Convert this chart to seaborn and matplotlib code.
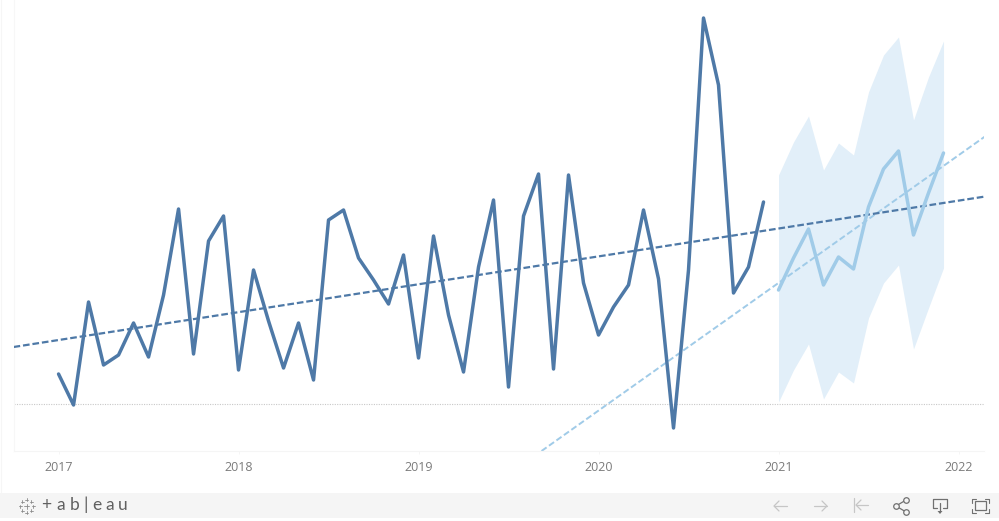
import numpy as np
import pandas as pd
import seaborn as sns
import matplotlib.pyplot as plt

# values are read off the picture, no y axis is shown so the unit is arbitrary (0 = dotted line)
actual = [30, -1, 102, 39, 49, 81, 47, 109, 195, 50, 163, 188,
          34, 134, 83, 36, 81, 24, 184, 194, 146, 124, 100, 149,
          46, 168, 89, 32, 137, 204, 17, 188, 230, 35, 229, 121,
          69, 97, 119, 194, 125, -24, 134, 386, 319, 111, 137, 202]
forecast = [114, 146, 175, 119, 147, 135, 197, 235, 253, 169, 211, 251]
upper = [229, 262, 288, 234, 261, 249, 312, 349, 367, 284, 327, 363]
lower = [2, 34, 60, 5, 32, 21, 86, 121, 139, 55, 96, 136]
year_labels = ['2017', '2018', '2019', '2020', '2021', '2022']
# trend line ends, month number -> value
trend_x = [-3, 62]
trend_actual = [57, 208]
trend_forecast_x = [32.2, 62]
trend_forecast = [-47, 270]

dark = '#4e79a7'
light = '#a0cbe8'

sns.set_theme(style='white')
plt.rcParams['font.family'] = ['Open Sans', 'DejaVu Sans']

df_actual = pd.DataFrame({'month': np.arange(len(actual)), 'value': actual})
df_fc = pd.DataFrame({'month': np.arange(48, 48 + len(forecast)), 'value': forecast,
                      'upper': upper, 'lower': lower})
df_t1 = pd.DataFrame({'month': trend_x, 'value': trend_actual})
df_t2 = pd.DataFrame({'month': trend_forecast_x, 'value': trend_forecast})

W, H = 999, 521
fig = plt.figure(figsize=(W / 100, H / 100), dpi=100, facecolor='white')
ax = fig.add_axes([14 / W, 1 - 451 / H, 970 / W, 451 / H])

ax.fill_between(df_fc['month'], df_fc['lower'], df_fc['upper'], color='#e2eff9', lw=0, zorder=1)
ax.axhline(0, color='#c8c8c8', lw=0.8, ls=(0, (1, 1.2)), zorder=1.5)
sns.lineplot(data=df_t2, x='month', y='value', color=light, lw=1.4, ls=(0, (3.2, 1.5)), ax=ax, zorder=2)
sns.lineplot(data=df_t1, x='month', y='value', color=dark, lw=1.6, ls=(0, (3, 1.3)), ax=ax, zorder=3)
sns.lineplot(data=df_actual, x='month', y='value', color=dark, lw=2.5, ax=ax, zorder=4)
sns.lineplot(data=df_fc, x='month', y='value', color=light, lw=2.5, ax=ax, zorder=4)

ax.set_xlim(-2.97, 61.7)
ax.set_ylim(-47, 404)
ax.set_xticks(np.arange(0, 61, 12))
ax.set_xticklabels(year_labels, fontsize=9, color='#7b7b7b')
ax.set_yticks([])
ax.set_xlabel('')
ax.set_ylabel('')
ax.tick_params(axis='x', length=2, width=0.6, color='#f4f4f4', pad=5, bottom=True)
sns.despine(ax=ax, top=True, right=True)
ax.spines['left'].set_color('#f7f7f7')
ax.spines['bottom'].set_color('#f5f5f5')
ax.spines['left'].set_linewidth(0.8)
ax.spines['bottom'].set_linewidth(0.8)

# toolbar, drawn in pixel coordinates
bar = fig.add_axes([0, 0, 1, 1], facecolor='none')
bar.set_xlim(0, W)
bar.set_ylim(H, 0)
bar.axis('off')
bar.add_patch(plt.Rectangle((0, 493), W, 25, color='#f5f5f5', lw=0))
bar.plot([1, 1], [0, 493], color='#f6f6f6', lw=0.8)

# logo crosses
for cx, cy, s in [(26.5, 506, 2.5), (26.5, 499.5, 1.5), (26.5, 512.5, 1.5), (20, 506, 1.5), (33, 506, 1.5),
                  (22, 501.5, 1.5), (31, 501.5, 1.5), (22, 510.5, 1.5), (31, 510.5, 1.5)]:
    bar.plot([cx - s, cx + s], [cy, cy], color='#8a8a8a', lw=0.6)
    bar.plot([cx, cx], [cy - s, cy + s], color='#8a8a8a', lw=0.6)
for ch, x in zip('+ab|eau', [46, 60.5, 75, 86, 97, 110, 123]):
    bar.text(x, 505, ch, fontsize=12.5, color='#606060', ha='center', va='center', family='Lato')

soft = '#c6c6c6'
icon = '#707070'
# back, forward, first
bar.plot([774, 787], [506, 506], color=soft, lw=0.9)
bar.plot([779, 774, 779], [501, 506, 511], color=soft, lw=0.9)
bar.plot([814, 827], [506, 506], color=soft, lw=0.9)
bar.plot([822, 827, 822], [501, 506, 511], color=soft, lw=0.9)
bar.plot([854, 854], [498, 512], color=soft, lw=0.9)
bar.plot([856, 868], [505, 505], color=soft, lw=0.9)
bar.plot([861, 856, 861], [500, 505, 510], color=soft, lw=0.9)
# share
bar.plot([906, 896, 906], [500, 506, 512], color=icon, lw=0.9)
bar.scatter([906, 896, 906], [500, 506, 512], s=16, facecolor='#f5f5f5', edgecolor=icon, lw=0.9, zorder=3)
# download
bar.plot([937, 933, 933, 947, 947, 943], [508, 508, 499, 499, 508, 508], color=icon, lw=0.9)
bar.plot([940, 940], [503, 511], color=icon, lw=0.9)
bar.fill([937.5, 940, 942.5], [511, 514, 511], color=icon, lw=0)
# fullscreen
bar.add_patch(plt.Rectangle((975, 501), 11, 9, fill=False, ec=icon, lw=0.9))
bar.plot([972, 972, 976], [503, 499, 499], color=icon, lw=0.8)
bar.plot([985, 989, 989], [499, 499, 503], color=icon, lw=0.8)
bar.plot([972, 972, 976], [509, 513, 513], color=icon, lw=0.8)
bar.plot([985, 989, 989], [513, 513, 509], color=icon, lw=0.8)

fig.savefig('out.png', dpi=100)
